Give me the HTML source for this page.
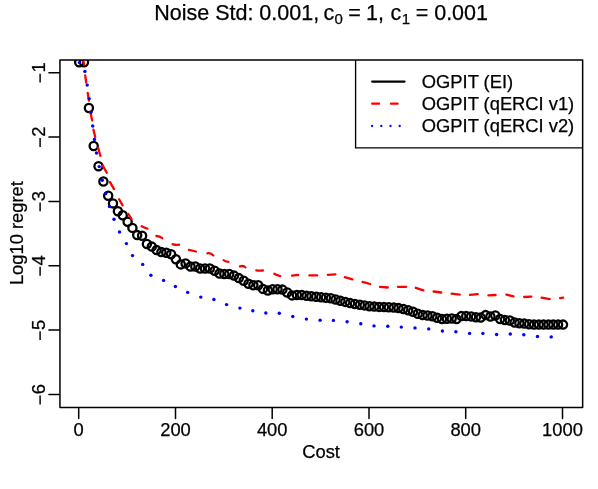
<!DOCTYPE html>
<html><head><meta charset="utf-8"><title>plot</title>
<style>
html,body{margin:0;padding:0;background:#fff;}
svg{display:block;will-change:transform;}
text{font-family:"Liberation Sans",sans-serif;fill:#000;}
</style></head><body>
<svg width="598" height="489" viewBox="0 0 598 489">
<rect width="598" height="489" fill="#fff"/>
<defs><clipPath id="cp"><rect x="59.95" y="60.0" width="522.7" height="347.4"/></clipPath></defs>
<g clip-path="url(#cp)">
<g fill="none" stroke="#000" stroke-width="2.29">
<circle cx="79.2" cy="62.2" r="4.1"/>
<circle cx="84.0" cy="62.2" r="4.1"/>
<circle cx="88.9" cy="108.0" r="4.1"/>
<circle cx="93.7" cy="146.0" r="4.1"/>
<circle cx="98.5" cy="166.2" r="4.1"/>
<circle cx="103.4" cy="181.5" r="4.1"/>
<circle cx="108.2" cy="195.8" r="4.1"/>
<circle cx="113.0" cy="203.4" r="4.1"/>
<circle cx="117.9" cy="211.2" r="4.1"/>
<circle cx="122.7" cy="215.3" r="4.1"/>
<circle cx="127.6" cy="221.8" r="4.1"/>
<circle cx="132.4" cy="227.9" r="4.1"/>
<circle cx="137.2" cy="235.1" r="4.1"/>
<circle cx="142.1" cy="235.7" r="4.1"/>
<circle cx="146.9" cy="244.0" r="4.1"/>
<circle cx="151.8" cy="246.6" r="4.1"/>
<circle cx="156.6" cy="250.1" r="4.1"/>
<circle cx="161.4" cy="252.1" r="4.1"/>
<circle cx="166.3" cy="252.8" r="4.1"/>
<circle cx="171.1" cy="254.2" r="4.1"/>
<circle cx="175.9" cy="259.3" r="4.1"/>
<circle cx="180.8" cy="264.4" r="4.1"/>
<circle cx="185.6" cy="263.4" r="4.1"/>
<circle cx="190.5" cy="266.5" r="4.1"/>
<circle cx="195.3" cy="266.5" r="4.1"/>
<circle cx="200.1" cy="268.5" r="4.1"/>
<circle cx="205.0" cy="268.5" r="4.1"/>
<circle cx="209.8" cy="268.5" r="4.1"/>
<circle cx="214.6" cy="270.8" r="4.1"/>
<circle cx="219.5" cy="273.5" r="4.1"/>
<circle cx="224.3" cy="274.0" r="4.1"/>
<circle cx="229.2" cy="274.0" r="4.1"/>
<circle cx="234.0" cy="275.6" r="4.1"/>
<circle cx="238.8" cy="278.1" r="4.1"/>
<circle cx="243.7" cy="280.8" r="4.1"/>
<circle cx="248.5" cy="283.7" r="4.1"/>
<circle cx="253.4" cy="285.2" r="4.1"/>
<circle cx="258.2" cy="285.2" r="4.1"/>
<circle cx="263.0" cy="288.9" r="4.1"/>
<circle cx="267.9" cy="290.5" r="4.1"/>
<circle cx="272.7" cy="289.3" r="4.1"/>
<circle cx="277.5" cy="289.3" r="4.1"/>
<circle cx="282.4" cy="289.6" r="4.1"/>
<circle cx="287.2" cy="292.5" r="4.1"/>
<circle cx="292.1" cy="295.4" r="4.1"/>
<circle cx="296.9" cy="295.0" r="4.1"/>
<circle cx="301.7" cy="295.0" r="4.1"/>
<circle cx="306.6" cy="295.7" r="4.1"/>
<circle cx="311.4" cy="296.3" r="4.1"/>
<circle cx="316.2" cy="296.8" r="4.1"/>
<circle cx="321.1" cy="297.3" r="4.1"/>
<circle cx="325.9" cy="297.8" r="4.1"/>
<circle cx="330.8" cy="298.3" r="4.1"/>
<circle cx="335.6" cy="299.5" r="4.1"/>
<circle cx="340.4" cy="300.7" r="4.1"/>
<circle cx="345.3" cy="301.9" r="4.1"/>
<circle cx="350.1" cy="303.1" r="4.1"/>
<circle cx="354.9" cy="304.0" r="4.1"/>
<circle cx="359.8" cy="304.7" r="4.1"/>
<circle cx="364.6" cy="305.4" r="4.1"/>
<circle cx="369.5" cy="306.2" r="4.1"/>
<circle cx="374.3" cy="306.6" r="4.1"/>
<circle cx="379.1" cy="306.9" r="4.1"/>
<circle cx="384.0" cy="307.1" r="4.1"/>
<circle cx="388.8" cy="307.3" r="4.1"/>
<circle cx="393.7" cy="307.6" r="4.1"/>
<circle cx="398.5" cy="308.1" r="4.1"/>
<circle cx="403.3" cy="309.0" r="4.1"/>
<circle cx="408.2" cy="310.3" r="4.1"/>
<circle cx="413.0" cy="311.8" r="4.1"/>
<circle cx="417.8" cy="313.8" r="4.1"/>
<circle cx="422.7" cy="315.1" r="4.1"/>
<circle cx="427.5" cy="315.5" r="4.1"/>
<circle cx="432.4" cy="316.2" r="4.1"/>
<circle cx="437.2" cy="317.8" r="4.1"/>
<circle cx="442.0" cy="319.1" r="4.1"/>
<circle cx="446.9" cy="318.8" r="4.1"/>
<circle cx="451.7" cy="318.5" r="4.1"/>
<circle cx="456.5" cy="319.1" r="4.1"/>
<circle cx="461.4" cy="316.1" r="4.1"/>
<circle cx="466.2" cy="316.1" r="4.1"/>
<circle cx="471.1" cy="316.4" r="4.1"/>
<circle cx="475.9" cy="317.2" r="4.1"/>
<circle cx="480.7" cy="317.6" r="4.1"/>
<circle cx="485.6" cy="315.1" r="4.1"/>
<circle cx="490.4" cy="316.5" r="4.1"/>
<circle cx="495.3" cy="315.5" r="4.1"/>
<circle cx="500.1" cy="319.0" r="4.1"/>
<circle cx="504.9" cy="320.0" r="4.1"/>
<circle cx="509.8" cy="320.5" r="4.1"/>
<circle cx="514.6" cy="322.5" r="4.1"/>
<circle cx="519.4" cy="323.2" r="4.1"/>
<circle cx="524.3" cy="323.6" r="4.1"/>
<circle cx="529.1" cy="324.3" r="4.1"/>
<circle cx="534.0" cy="324.6" r="4.1"/>
<circle cx="538.8" cy="324.6" r="4.1"/>
<circle cx="543.6" cy="324.6" r="4.1"/>
<circle cx="548.5" cy="324.6" r="4.1"/>
<circle cx="553.3" cy="324.6" r="4.1"/>
<circle cx="558.1" cy="324.6" r="4.1"/>
<circle cx="563.0" cy="324.6" r="4.1"/>
</g>
<g fill="none" stroke="#f00" stroke-width="2.29" stroke-linecap="round">
<path d="M82.9 60.5L84.1 64.2"/>
<path d="M85.2 75.4L86.2 82.6"/>
<path d="M87.7 92.8L88.9 100.7"/>
<path d="M90.4 111.6L92.1 120.4"/>
<path d="M93.4 129.6L95.2 137.0"/>
<path d="M98.2 147.7L100.3 155.8"/>
<path d="M102.7 165.6L106.8 172.7"/>
<path d="M109.9 181.9L114 189.1"/>
<path d="M119.1 199.3L122.6 205.4"/>
<path d="M128.4 214.0L131.5 219.0"/>
<path d="M141.6 226.3Q143.9 227.7 147.4 228.7"/>
<path d="M156.4 236Q159.6 236.1 162.3 238.2"/>
<path d="M172.6 244.1Q176.0 245.4 179 244.7"/>
<path d="M188.9 249.9L195.9 251.5"/>
<path d="M207.4 253.4Q210.4 252.2 213.3 255.4"/>
<path d="M223.6 260.3Q225.0 261.7 228.4 261.8"/>
<path d="M239.9 266.4Q243.7 265.3 245.4 267.4"/>
<path d="M256.3 270.3Q259.0 271.0 262.9 270.5"/>
<path d="M274.3 273.8Q277.1 275.6 280.3 276.1"/>
<path d="M292 275.7L298.2 274.9"/>
<path d="M309.4 275.4L317.2 275.4"/>
<path d="M327.8 274.8L335.4 274.4"/>
<path d="M344.8 277.2L352.4 279.3"/>
<path d="M362.6 281.9L370.2 284"/>
<path d="M380 286.9L387.8 287.5"/>
<path d="M398 286.8L406.2 286.8"/>
<path d="M415.8 287.8L423.4 290.3"/>
<path d="M433.6 291.5L441.3 292.5"/>
<path d="M451.6 293.6L459.8 294.6"/>
<path d="M470 294.8L477.7 294.2"/>
<path d="M488.4 295.4L495.6 295"/>
<path d="M506.4 294.6L513.4 296.4"/>
<path d="M524.2 297L531.3 296.6"/>
<path d="M541.6 297.6L549.8 299.1"/>
<path d="M560 298.1L563.2 297.7"/>
</g>
<g fill="#00f">
<circle cx="79.4" cy="62.6" r="1.72"/>
<circle cx="84.9" cy="71.4" r="1.72"/>
<circle cx="87.2" cy="85.1" r="1.72"/>
<circle cx="89.2" cy="98.6" r="1.72"/>
<circle cx="90.9" cy="112.3" r="1.72"/>
<circle cx="92.7" cy="126" r="1.72"/>
<circle cx="94.4" cy="139.5" r="1.72"/>
<circle cx="96.5" cy="153" r="1.72"/>
<circle cx="99.2" cy="166.6" r="1.72"/>
<circle cx="102.3" cy="180.3" r="1.72"/>
<circle cx="105.8" cy="193.6" r="1.72"/>
<circle cx="109.5" cy="206.5" r="1.72"/>
<circle cx="114" cy="219.3" r="1.72"/>
<circle cx="119.5" cy="232" r="1.72"/>
<circle cx="126.4" cy="243.6" r="1.72"/>
<circle cx="132.5" cy="255.6" r="1.72"/>
<circle cx="142.7" cy="264.4" r="1.72"/>
<circle cx="150.9" cy="275.3" r="1.72"/>
<circle cx="163.6" cy="280.4" r="1.72"/>
<circle cx="175.4" cy="286.5" r="1.72"/>
<circle cx="187.7" cy="292.4" r="1.72"/>
<circle cx="200.8" cy="297.1" r="1.72"/>
<circle cx="213.9" cy="299.5" r="1.72"/>
<circle cx="226.6" cy="304.6" r="1.72"/>
<circle cx="239.9" cy="308.1" r="1.72"/>
<circle cx="252.8" cy="310.8" r="1.72"/>
<circle cx="265.8" cy="313" r="1.72"/>
<circle cx="279.3" cy="313.2" r="1.72"/>
<circle cx="292.8" cy="316.5" r="1.72"/>
<circle cx="306.4" cy="319.1" r="1.72"/>
<circle cx="320.1" cy="320.2" r="1.72"/>
<circle cx="333.4" cy="320.4" r="1.72"/>
<circle cx="347.1" cy="321.8" r="1.72"/>
<circle cx="360.8" cy="323.8" r="1.72"/>
<circle cx="374" cy="325.9" r="1.72"/>
<circle cx="387.8" cy="326.2" r="1.72"/>
<circle cx="401.3" cy="327.1" r="1.72"/>
<circle cx="415" cy="327.9" r="1.72"/>
<circle cx="428.7" cy="328.9" r="1.72"/>
<circle cx="442.4" cy="331" r="1.72"/>
<circle cx="455.9" cy="331.8" r="1.72"/>
<circle cx="469.6" cy="333.4" r="1.72"/>
<circle cx="482.9" cy="333.4" r="1.72"/>
<circle cx="496.6" cy="334.5" r="1.72"/>
<circle cx="510.3" cy="334" r="1.72"/>
<circle cx="523.8" cy="334.7" r="1.72"/>
<circle cx="537.5" cy="336.5" r="1.72"/>
<circle cx="551.2" cy="336.9" r="1.72"/>
</g></g>
<g fill="none" stroke="#000" stroke-width="1.5" stroke-linecap="round" stroke-linejoin="round">
<path d="M78.7 408.09999999999997V418.4"/>
<path d="M175.5 408.09999999999997V418.4"/>
<path d="M272.2 408.09999999999997V418.4"/>
<path d="M369.0 408.09999999999997V418.4"/>
<path d="M465.7 408.09999999999997V418.4"/>
<path d="M562.5 408.09999999999997V418.4"/>
<path d="M59.25 394.5H48.95"/>
<path d="M59.25 330.1H48.95"/>
<path d="M59.25 265.8H48.95"/>
<path d="M59.25 201.4H48.95"/>
<path d="M59.25 137.1H48.95"/>
<path d="M59.25 72.7H48.95"/>
</g>
<g font-size="18.33px" text-anchor="middle" stroke="#000" stroke-width="0.25">
<text x="78.7" y="436">0</text>
<text x="175.5" y="436">200</text>
<text x="272.2" y="436">400</text>
<text x="369.0" y="436">600</text>
<text x="465.7" y="436">800</text>
<text x="562.5" y="436">1000</text>
<text transform="translate(44.7 394.25) rotate(-90)" text-anchor="start">6</text>
<path d="M40.1 404.40V395.50" stroke="#000" stroke-width="1.45" fill="none"/>
<text transform="translate(44.7 329.89) rotate(-90)" text-anchor="start">5</text>
<path d="M40.1 340.04V331.14" stroke="#000" stroke-width="1.45" fill="none"/>
<text transform="translate(44.7 265.53) rotate(-90)" text-anchor="start">4</text>
<path d="M40.1 275.68V266.78" stroke="#000" stroke-width="1.45" fill="none"/>
<text transform="translate(44.7 201.17) rotate(-90)" text-anchor="start">3</text>
<path d="M40.1 211.32V202.42" stroke="#000" stroke-width="1.45" fill="none"/>
<text transform="translate(44.7 136.81) rotate(-90)" text-anchor="start">2</text>
<path d="M40.1 146.96V138.06" stroke="#000" stroke-width="1.45" fill="none"/>
<text transform="translate(44.7 72.45) rotate(-90)" text-anchor="start">1</text>
<path d="M40.1 82.60V73.70" stroke="#000" stroke-width="1.45" fill="none"/>
<text x="321.1" y="458">Cost</text>
<text transform="translate(22.8 233.1) rotate(-90)">Log10 regret</text>
</g>
<g font-size="21.5px" stroke="#000" stroke-width="0.25">
<text x="154.2" y="20.3">Noise Std: 0.001,</text>
<text x="323.4" y="20.3">c</text><text x="334.6" y="24.3" font-size="15px">0</text><text x="348.2" y="20.3">=</text><text x="366" y="20.3">1,</text>
<text x="390.5" y="20.3">c</text><text x="401.7" y="24.3" font-size="15px">1</text><text x="415.8" y="20.3">=</text><text x="434.2" y="20.3">0.001</text>
</g>
<rect x="355.6" y="60.0" width="227.0" height="87.8" fill="#fff"/>
<path d="M355.6 60.0V147.8H582.65" fill="none" stroke="#000" stroke-width="1.35"/>
<rect x="59.95" y="60.0" width="522.7" height="347.4" fill="none" stroke="#000" stroke-width="1.5" stroke-linejoin="round"/>
<path d="M372.2 81.6H404.5" stroke="#000" stroke-width="2.29" stroke-linecap="round"/>
<path d="M372.2 103.7H379.1M391 103.7H397.6" stroke="#f00" stroke-width="2.29" stroke-linecap="round"/>
<circle cx="372.1" cy="126" r="1.15" fill="#00f"/>
<circle cx="381.3" cy="126" r="1.15" fill="#00f"/>
<circle cx="390.5" cy="126" r="1.15" fill="#00f"/>
<circle cx="399.7" cy="126" r="1.15" fill="#00f"/>
<g font-size="18.33px" stroke="#000" stroke-width="0.25"><text x="421.8" y="87.7">OGPIT (EI)</text><text x="421.8" y="109.8">OGPIT (qERCI v1)</text><text x="421.8" y="132.1">OGPIT (qERCI v2)</text></g>
</svg></body></html>
